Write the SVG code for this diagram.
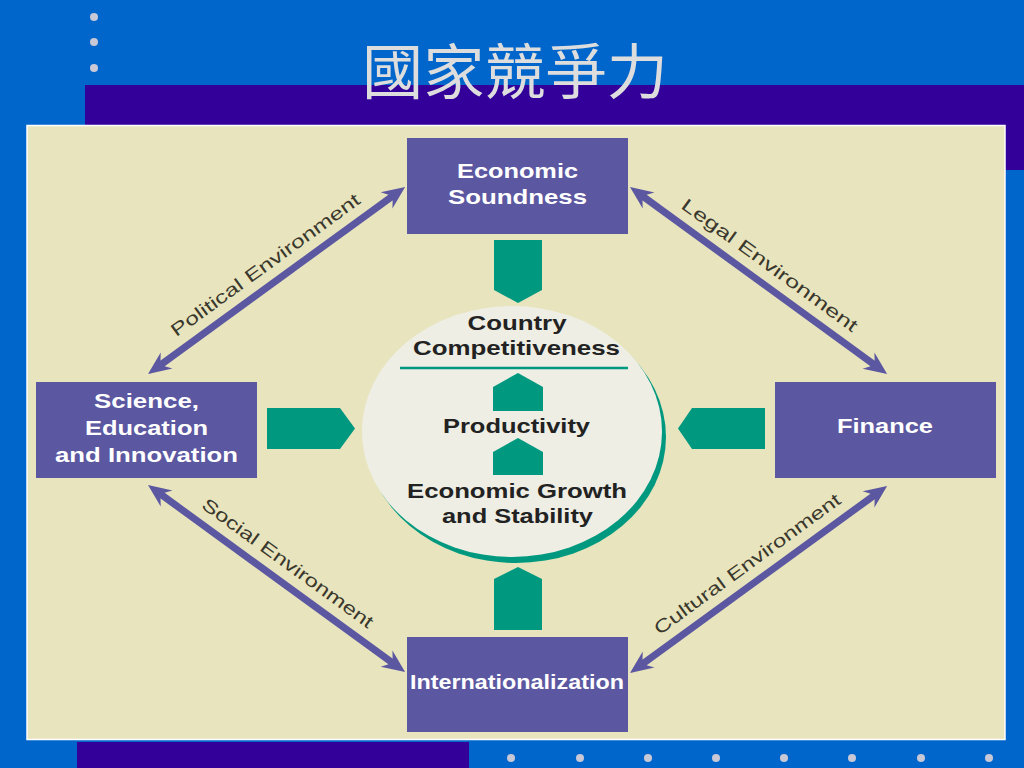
<svg xmlns="http://www.w3.org/2000/svg" width="1024" height="768" viewBox="0 0 1024 768">
<defs>
<style>
.box{fill:#5B57A0}
.green{fill:#00997F}
.bt{fill:#FFFFFF;font-family:"Liberation Sans",Arial,sans-serif;font-weight:bold;font-size:21px;text-anchor:middle}
.ct{fill:#222222;font-family:"Liberation Sans",Arial,sans-serif;font-weight:bold;font-size:21px;text-anchor:middle}
.lt{fill:#3A382C;font-family:"Liberation Sans",Arial,sans-serif;font-size:18px;text-anchor:middle}
.dot{fill:#C8C8D6}
.shaft{stroke:#5B57A0;stroke-width:7;fill:none}
.head{fill:#5B57A0}
</style>
<g id="dblarrow-shape">
<line class="shaft" x1="16" y1="0" x2="302" y2="0"/>
<path class="head" d="M0,0 L23,-10 L18,-3.5 L18,3.5 L23,10 Z"/>
<path class="head" d="M318,0 L295,-10 L300,-3.5 L300,3.5 L295,10 Z"/>
</g>
</defs>

<!-- background -->
<rect x="0" y="0" width="1024" height="768" fill="#0066CC"/>
<rect x="85" y="85" width="939" height="85" fill="#330099"/>
<rect x="77" y="742" width="392" height="26" fill="#330099"/>
<g id="dots-top">
<circle class="dot" cx="94" cy="17" r="4"/>
<circle class="dot" cx="94" cy="42" r="4"/>
<circle class="dot" cx="94" cy="68" r="4"/>
</g>
<g id="dots-bottom">
<circle class="dot" cx="511" cy="758" r="4"/>
<circle class="dot" cx="580" cy="758" r="4"/>
<circle class="dot" cx="648" cy="758" r="4"/>
<circle class="dot" cx="716" cy="758" r="4"/>
<circle class="dot" cx="784" cy="758" r="4"/>
<circle class="dot" cx="852" cy="758" r="4"/>
<circle class="dot" cx="921" cy="758" r="4"/>
<circle class="dot" cx="989" cy="758" r="4"/>
</g>
<text id="title" x="515" y="94" fill="#DDDDDD" font-family="'Noto Sans CJK TC','Noto Sans CJK SC',sans-serif" font-size="60" text-anchor="middle" textLength="306" lengthAdjust="spacingAndGlyphs">國家競爭力</text>

<!-- panel -->
<rect x="27" y="125.5" width="978" height="614" fill="#E8E4BE" stroke="#FFFFFF" stroke-width="1.5"/>

<!-- connectors -->
<g id="connectors">
<g id="political" transform="translate(148,374) rotate(-36.04)">
<use href="#dblarrow-shape"/>
<text class="lt" x="159" y="-13" textLength="229" lengthAdjust="spacingAndGlyphs">Political Environment</text>
</g>
<g id="legal" transform="translate(630,187) rotate(36.04)">
<use href="#dblarrow-shape"/>
<text class="lt" x="159" y="-13" textLength="213" lengthAdjust="spacingAndGlyphs">Legal Environment</text>
</g>
<g id="social" transform="translate(148,485) rotate(36.04)">
<use href="#dblarrow-shape"/>
<text class="lt" x="159" y="-13" textLength="207" lengthAdjust="spacingAndGlyphs">Social Environment</text>
</g>
<g id="cultural" transform="translate(630,673) rotate(-36.04)">
<use href="#dblarrow-shape"/>
<text class="lt" x="159" y="-13" textLength="226" lengthAdjust="spacingAndGlyphs">Cultural Environment</text>
</g>
<polygon id="arrow-top" class="green" points="494,240 542,240 542,290 518,303 494,290"/>
<polygon id="arrow-bottom" class="green" points="518,567 542,579 542,630 494,630 494,579"/>
<polygon id="arrow-left" class="green" points="267,408 340,408 355,428.5 340,449 267,449"/>
<polygon id="arrow-right" class="green" points="765,408 692,408 678,428.5 692,449 765,449"/>
</g>

<!-- center -->
<g id="country-competitiveness">
<ellipse cx="516" cy="437" rx="150" ry="126" fill="#00997F"/>
<ellipse cx="512" cy="431.5" rx="150" ry="125.5" fill="#EEEEE4"/>
<line x1="400" y1="368" x2="628" y2="368" stroke="#00997F" stroke-width="2.5"/>
<text class="ct" x="517" y="330" textLength="99" lengthAdjust="spacingAndGlyphs">Country</text>
<text class="ct" x="516.5" y="355" textLength="207" lengthAdjust="spacingAndGlyphs">Competitiveness</text>
<polygon class="green" points="493,411 493,387 518,373 543,387 543,411"/>
<text class="ct" x="516.5" y="433" textLength="147" lengthAdjust="spacingAndGlyphs">Productivity</text>
<polygon class="green" points="493,475 493,452 518,438 543,452 543,475"/>
<text class="ct" x="517" y="498" textLength="220" lengthAdjust="spacingAndGlyphs">Economic Growth</text>
<text class="ct" x="517.5" y="523" textLength="151" lengthAdjust="spacingAndGlyphs">and Stability</text>
</g>

<!-- nodes -->
<g id="economic-soundness">
<rect class="box" x="407" y="138" width="221" height="96"/>
<text class="bt" x="517.5" y="178" textLength="121" lengthAdjust="spacingAndGlyphs">Economic</text>
<text class="bt" x="517.5" y="204" textLength="139" lengthAdjust="spacingAndGlyphs">Soundness</text>
</g>
<g id="science-education">
<rect class="box" x="36" y="382" width="221" height="96"/>
<text class="bt" x="146.5" y="408" textLength="105" lengthAdjust="spacingAndGlyphs">Science,</text>
<text class="bt" x="146.5" y="435" textLength="123" lengthAdjust="spacingAndGlyphs">Education</text>
<text class="bt" x="146.5" y="462" textLength="183" lengthAdjust="spacingAndGlyphs">and Innovation</text>
</g>
<g id="finance">
<rect class="box" x="775" y="382" width="221" height="96"/>
<text class="bt" x="885" y="433" textLength="96" lengthAdjust="spacingAndGlyphs">Finance</text>
</g>
<g id="internationalization">
<rect class="box" x="407" y="637" width="221" height="95"/>
<text class="bt" x="517" y="689" font-size="20" textLength="214" lengthAdjust="spacingAndGlyphs">Internationalization</text>
</g>
</svg>
